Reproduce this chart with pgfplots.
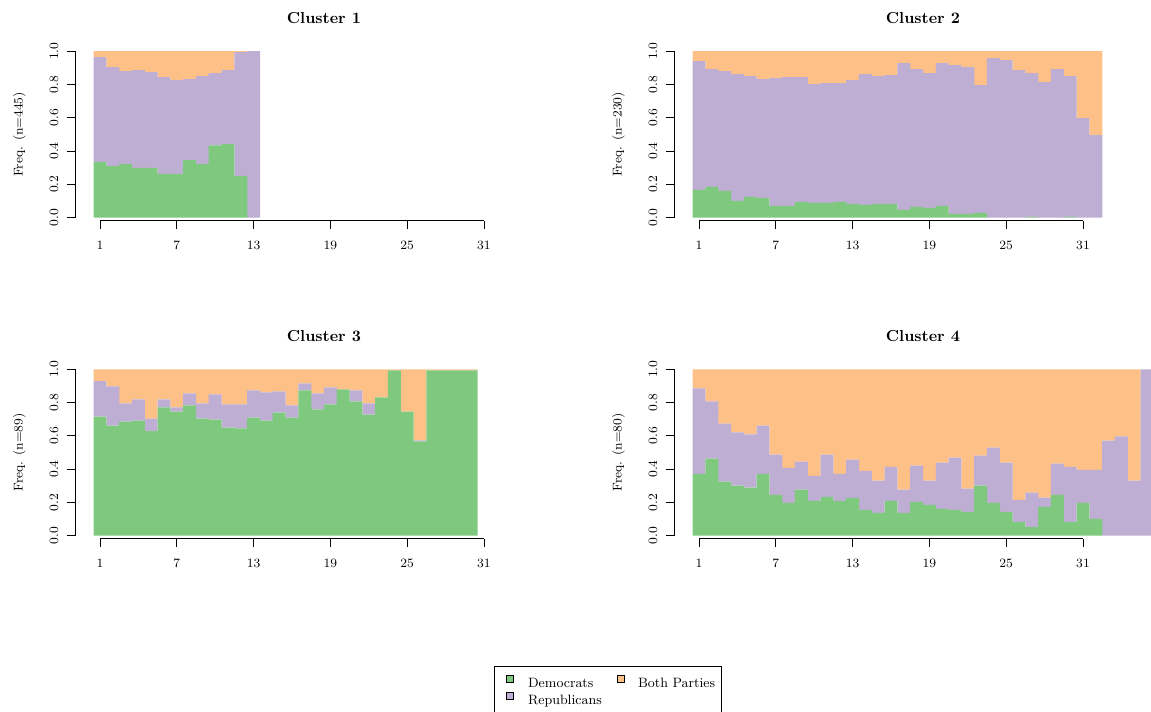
\documentclass[border=0pt]{standalone}
\usepackage{pgfplots}
\usepackage{pgfplotstable}
\pgfplotsset{compat=1.18}
\definecolor{accgreen}{HTML}{7FC97F}
\definecolor{accpurple}{HTML}{BEAED4}
\definecolor{accorange}{HTML}{FDC086}

\pgfplotstableread{
x dem rep both
1 0.334 0.630 0.036
2 0.310 0.594 0.096
3 0.322 0.558 0.120
4 0.298 0.588 0.114
5 0.298 0.576 0.126
6 0.262 0.582 0.156
7 0.262 0.564 0.174
8 0.346 0.486 0.168
9 0.322 0.528 0.150
10 0.434 0.434 0.132
11 0.442 0.444 0.114
12 0.250 0.744 0.006
13 0.000 1.000 0.000
}\tabA

\pgfplotstableread{
x dem rep both
1 0.166 0.774 0.060
2 0.184 0.708 0.108
3 0.160 0.720 0.120
4 0.100 0.762 0.138
5 0.124 0.726 0.150
6 0.118 0.714 0.168
7 0.070 0.768 0.162
8 0.070 0.774 0.156
9 0.094 0.750 0.156
10 0.088 0.714 0.198
11 0.088 0.720 0.192
12 0.094 0.714 0.192
13 0.082 0.744 0.174
14 0.076 0.786 0.138
15 0.082 0.768 0.150
16 0.082 0.774 0.144
17 0.046 0.882 0.072
18 0.064 0.828 0.108
19 0.058 0.810 0.132
20 0.070 0.858 0.072
21 0.022 0.894 0.084
22 0.022 0.882 0.096
23 0.028 0.768 0.204
24 0.000 0.958 0.042
25 0.000 0.946 0.054
26 0.000 0.886 0.114
27 0.004 0.864 0.132
28 0.000 0.814 0.186
29 0.000 0.892 0.108
30 0.004 0.846 0.150
31 0.000 0.598 0.402
32 0.000 0.496 0.504
}\tabB

\pgfplotstableread{
x dem rep both
1 0.716 0.212 0.072
2 0.662 0.235 0.103
3 0.686 0.109 0.205
4 0.692 0.127 0.181
5 0.628 0.076 0.296
6 0.771 0.048 0.181
7 0.746 0.025 0.229
8 0.783 0.072 0.145
9 0.704 0.091 0.205
10 0.698 0.151 0.151
11 0.650 0.139 0.211
12 0.644 0.145 0.211
13 0.710 0.163 0.127
14 0.692 0.169 0.139
15 0.740 0.127 0.133
16 0.710 0.073 0.217
17 0.873 0.042 0.085
18 0.759 0.096 0.145
19 0.789 0.102 0.109
20 0.879 0.000 0.121
21 0.807 0.066 0.127
22 0.728 0.067 0.205
23 0.831 0.000 0.169
24 0.994 0.000 0.006
25 0.746 0.000 0.254
26 0.567 0.006 0.427
27 0.994 0.000 0.006
28 0.994 0.000 0.006
29 0.994 0.000 0.006
30 0.994 0.000 0.006
}\tabC

\pgfplotstableread{
x dem rep both
1 0.372 0.513 0.115
2 0.463 0.344 0.193
3 0.324 0.350 0.326
4 0.300 0.320 0.380
5 0.288 0.320 0.392
6 0.372 0.290 0.338
7 0.245 0.242 0.513
8 0.197 0.211 0.592
9 0.276 0.169 0.555
10 0.209 0.151 0.640
11 0.233 0.254 0.513
12 0.209 0.163 0.628
13 0.227 0.230 0.543
14 0.155 0.235 0.610
15 0.137 0.193 0.670
16 0.209 0.205 0.586
17 0.137 0.139 0.724
18 0.203 0.218 0.579
19 0.185 0.145 0.670
20 0.161 0.278 0.561
21 0.155 0.314 0.531
22 0.143 0.139 0.718
23 0.300 0.181 0.519
24 0.197 0.332 0.471
25 0.143 0.296 0.561
26 0.082 0.133 0.785
27 0.052 0.206 0.742
28 0.173 0.056 0.771
29 0.245 0.188 0.567
30 0.082 0.332 0.586
31 0.197 0.199 0.604
32 0.101 0.295 0.604
33 0.000 0.571 0.429
34 0.000 0.596 0.404
35 0.000 0.330 0.670
36 0.000 1.000 0.000
}\tabD

\pgfplotsset{
  seqax/.style={
    scale only axis, width=288bp, height=104bp,
    xmin=0.5, xmax=36.5, ymin=0, ymax=1,
    axis x line*=bottom, axis y line*=left,
    axis x line shift=2bp, axis y line shift=11.6bp,
    x axis line style={draw=none},
    y axis line style={line width=0.6bp},
    tick align=outside, major tick length=5bp,
    tick style={black, line width=0.6bp},
    xtick={1,7,13,19,25,31},
    ytick={0,0.2,0.4,0.6,0.8,1},
    yticklabel={\pgfmathprintnumber[fixed,fixed zerofill,precision=1]{\tick}},
    tick label style={font=\fontsize{8}{9.6}\selectfont},
    xticklabel style={yshift=-4.3bp},
    yticklabel style={xshift=-2bp, rotate=90, anchor=south},
    every axis y label/.style={at={(axis description cs:0,0.5)}, xshift=-46.3bp, anchor=center, rotate=90, font=\fontsize{8}{9.6}\selectfont},
    every axis title/.style={at={(axis description cs:0.5,1)}, anchor=center, yshift=20.6bp, font=\fontsize{10}{12}\selectfont\bfseries},
    ybar stacked, bar width=1.01,
    clip=false,
  },
}

\begin{document}
\begin{tikzpicture}
% Cluster 1
\begin{axis}[seqax, at={(58.5bp,308.4bp)}, anchor=south west, title={Cluster 1}, ylabel={Freq. (n=445)}]
\addplot[fill=accgreen, draw=none] table[x=x,y=dem]{\tabA};
\addplot[fill=accpurple, draw=none] table[x=x,y=rep]{\tabA};
\addplot[fill=accorange, draw=none] table[x=x,y=both]{\tabA};
\draw[line width=0.6bp] ([yshift=-2bp]axis cs:1,0) -- ([yshift=-2bp]axis cs:31,0);
\end{axis}
% Cluster 2
\begin{axis}[seqax, at={(432.9bp,308.4bp)}, anchor=south west, title={Cluster 2}, ylabel={Freq. (n=230)}]
\addplot[fill=accgreen, draw=none] table[x=x,y=dem]{\tabB};
\addplot[fill=accpurple, draw=none] table[x=x,y=rep]{\tabB};
\addplot[fill=accorange, draw=none] table[x=x,y=both]{\tabB};
\draw[line width=0.6bp] ([yshift=-2bp]axis cs:1,0) -- ([yshift=-2bp]axis cs:31,0);
\end{axis}
% Cluster 3
\begin{axis}[seqax, at={(58.5bp,109.6bp)}, anchor=south west, title={Cluster 3}, ylabel={Freq. (n=89)}]
\addplot[fill=accgreen, draw=none] table[x=x,y=dem]{\tabC};
\addplot[fill=accpurple, draw=none] table[x=x,y=rep]{\tabC};
\addplot[fill=accorange, draw=none] table[x=x,y=both]{\tabC};
\draw[line width=0.6bp] ([yshift=-2bp]axis cs:1,0) -- ([yshift=-2bp]axis cs:31,0);
\end{axis}
% Cluster 4
\begin{axis}[seqax, at={(432.9bp,109.6bp)}, anchor=south west, title={Cluster 4}, ylabel={Freq. (n=80)}]
\addplot[fill=accgreen, draw=none] table[x=x,y=dem]{\tabD};
\addplot[fill=accpurple, draw=none] table[x=x,y=rep]{\tabD};
\addplot[fill=accorange, draw=none] table[x=x,y=both]{\tabD};
\draw[line width=0.6bp] ([yshift=-2bp]axis cs:1,0) -- ([yshift=-2bp]axis cs:31,0);
\end{axis}
% Legend
\begin{axis}[at={(0bp,0bp)}, anchor=south west, scale only axis, width=719.4bp, height=444.4bp,
  hide axis, xmin=0, xmax=1, ymin=0, ymax=1,
  legend columns=2,
  legend cell align=left,
  legend style={at={(0.4292,0.0632)}, anchor=north west, draw=black, line width=0.6bp,
    font=\fontsize{8.5}{10}\selectfont,
    inner xsep=3.7bp, inner ysep=5.35bp,
    nodes={inner sep=0pt, text height=6.2bp, text depth=1.8bp},
    row sep=1.4bp, column sep=0pt,
    /tikz/column 1/.style={column sep=9.05bp},
    /tikz/column 2/.style={column sep=5.85bp},
    /tikz/column 3/.style={column sep=8.5bp}},
  legsq/.style={legend image code/.code={\path (0bp,2bp); \draw[##1, draw=black, line width=0.5bp] (3.5bp,0.8bp) rectangle (7.7bp,5bp);}},
]
\addlegendimage{legsq, fill=accgreen}
\addlegendentry{Democrats}
\addlegendimage{legsq, fill=accorange}
\addlegendentry{Both Parties}
\addlegendimage{legsq, fill=accpurple}
\addlegendentry{Republicans}
\end{axis}
\pgfresetboundingbox
\path[use as bounding box] (0,0) rectangle (719.4bp,444.4bp);
\end{tikzpicture}
\end{document}
